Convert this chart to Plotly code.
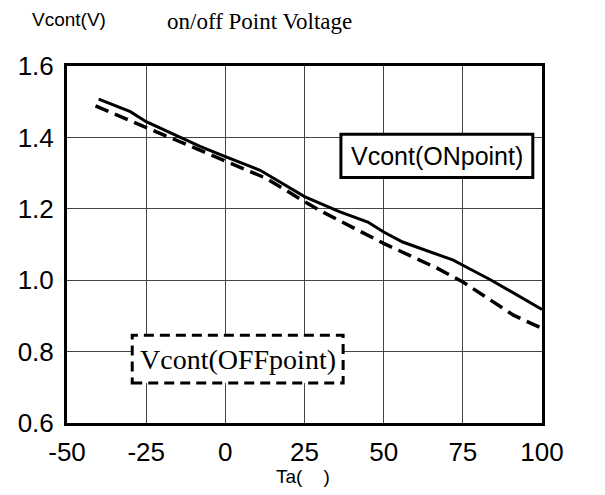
import plotly.graph_objects as go

# Data
ta_on = [-40, -30, -25, -8, 0, 11, 25, 36, 45, 50, 56, 65, 72, 75, 84, 100]
v_on = [1.507, 1.472, 1.444, 1.375, 1.346, 1.308, 1.234, 1.192, 1.163, 1.135, 1.107, 1.079, 1.056, 1.042, 1.0, 0.918]

ta_off = [-41, -25, -17.5, 0, 13, 25, 31, 50, 67, 75, 91, 100]
v_off = [1.488, 1.428, 1.40, 1.336, 1.285, 1.22, 1.19, 1.103, 1.033, 0.995, 0.902, 0.865]

x_ticks = [-50, -25, 0, 25, 50, 75, 100]
y_ticks = [0.6, 0.8, 1.0, 1.2, 1.4, 1.6]
y_tick_text = ["0.6", "0.8", "1.0", "1.2", "1.4", "1.6"]

# page body has an 8px default margin, so the figure is drawn 8px smaller/offset
OFF = 8
W, H = 605 - OFF, 495 - OFF
L, R, T, B = 67 - OFF, 63, 66 - OFF, 72
pw, ph = W - L - R, H - T - B


def px2paper(px, py):
    return (px - OFF - L) / pw, (H - B - (py - OFF)) / ph


fig = go.Figure()
fig.add_trace(go.Scatter(x=ta_on, y=v_on, mode="lines", name="Vcont(ONpoint)",
                         line=dict(color="black", width=3), showlegend=False))
fig.add_trace(go.Scatter(x=ta_off, y=v_off, mode="lines", name="Vcont(OFFpoint)",
                         line=dict(color="black", width=3.5, dash="14px,7px"), showlegend=False))

# Label boxes
fig.add_shape(type="rect", xref="x", yref="y", x0=36.5, x1=97.1, y0=1.288, y1=1.409,
              line=dict(color="black", width=3), fillcolor="white", layer="above")
fig.add_annotation(x=66.8, y=1.348, xref="x", yref="y", text="Vcont(ONpoint)", showarrow=False,
                   xanchor="center", yanchor="middle",
                   font=dict(family="Liberation Sans, Arial", size=25, color="black"))

fig.add_shape(type="rect", xref="x", yref="y", x0=-29.4, x1=37.2, y0=0.712, y1=0.846,
              line=dict(color="black", width=3, dash="10px,6px"), fillcolor="white", layer="above")
fig.add_annotation(x=3.9, y=0.779, xref="x", yref="y", text="Vcont(OFFpoint)", showarrow=False,
                   xanchor="center", yanchor="middle",
                   font=dict(family="Liberation Serif, Times New Roman", size=28, color="black"))

# Title and axis captions (positioned in page pixels: left edge, vertical centre)
for txt, (px, py), fam, sz in [
    ("on/off Point Voltage", (165, 21), "Liberation Serif, Times New Roman", 23),
    ("Vcont(V)", (30, 19), "Liberation Sans, Arial", 19),
    ("Ta(    )", (274, 477), "Liberation Sans, Arial", 19),
]:
    ax_, ay_ = px2paper(px, py)
    fig.add_annotation(x=ax_, y=ay_, xref="paper", yref="paper", text=txt, showarrow=False,
                       xanchor="left", yanchor="middle",
                       font=dict(family=fam, size=sz, color="black"))

fig.update_layout(
    width=W, height=H,
    margin=dict(l=L, r=R, t=T, b=B, autoexpand=False),
    paper_bgcolor="white", plot_bgcolor="white",
    xaxis=dict(range=[-50, 100], tickvals=x_ticks, ticktext=[str(v) for v in x_ticks],
               showgrid=True, gridcolor="#444", gridwidth=1, automargin=False,
               showline=True, linecolor="black", linewidth=3, mirror=True,
               zeroline=False, ticks="", ticklabelstandoff=4,
               tickfont=dict(family="Liberation Sans, Arial", size=26, color="black")),
    yaxis=dict(range=[0.6, 1.6], tickvals=y_ticks, ticktext=y_tick_text,
               showgrid=True, gridcolor="#444", gridwidth=1, automargin=False,
               showline=True, linecolor="black", linewidth=3, mirror=True,
               zeroline=False, ticks="", ticklabelstandoff=5,
               tickfont=dict(family="Liberation Sans, Arial", size=26, color="black")),
)

fig.write_html("out.html")
